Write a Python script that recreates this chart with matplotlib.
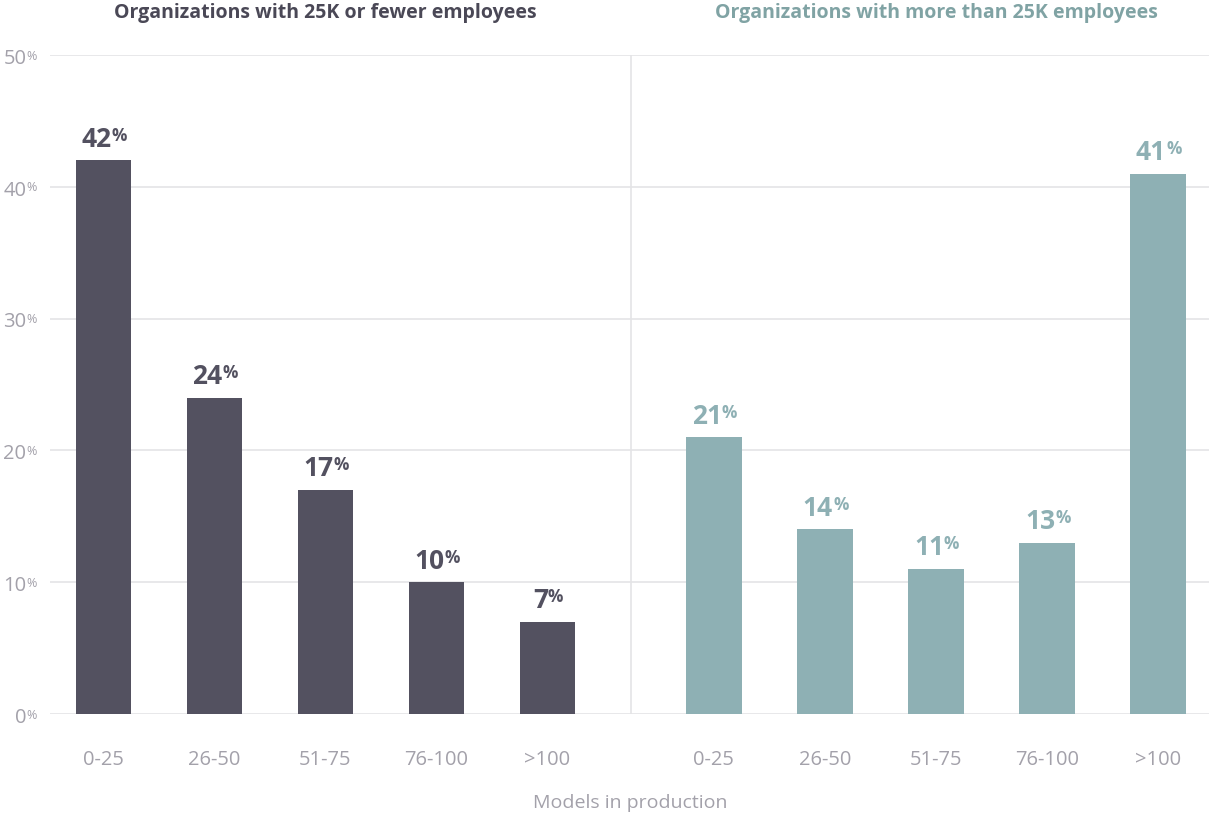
import matplotlib.pyplot as plt
import numpy as np

# data
ranges = ["0-25", "26-50", "51-75", "76-100", ">100"]
small_orgs = [42, 24, 17, 10, 7]
large_orgs = [21, 14, 11, 13, 41]
yticks = [0, 10, 20, 30, 40, 50]

dark = "#535160"
teal = "#8eb0b4"
grey_txt = "#a3a1aa"
grid_col = "#e4e4e6"

plt.rcParams['font.family'] = ['Open Sans', 'DejaVu Sans']

fig = plt.figure(figsize=(12.09, 8.18), dpi=100)
ax = fig.add_axes([50 / 1209, 104 / 818, 1 - 50 / 1209, (714 - 55) / 818])

x1 = np.arange(len(ranges))
x2 = x1 + 5.5
ax.bar(x1, small_orgs, width=0.5, color=dark, zorder=3)
ax.bar(x2, large_orgs, width=0.5, color=teal, zorder=3)

ax.set_xlim(-0.48, 9.96)
ax.set_ylim(0, 50)

# grid lines
for y in yticks:
    ax.axhline(y, color=grid_col, lw=1.2, zorder=1)
ax.plot([4.75, 4.75], [0, 50], color=grid_col, lw=1.2, zorder=1)

for s in ax.spines.values():
    s.set_visible(False)
ax.set_yticks([])
ax.set_xticks(list(x1) + list(x2))
ax.set_xticklabels(ranges + ranges, fontsize=14.5, color=grey_txt)
ax.tick_params(axis='x', length=0, pad=26)


def pct_label(x, y, num, color, size, weight, ha='center', xytext=(0, 0), gap=0, ratio=0.65):
    t = ax.annotate(num, xy=(x, y), xytext=xytext, textcoords='offset points',
                    ha=ha, va='bottom', fontsize=size, fontweight=weight, color=color,
                    annotation_clip=False)
    ax.annotate("%", xy=(1, 1), xycoords=t, xytext=(gap, -size * 0.04), textcoords='offset points',
                ha='left', va='top', fontsize=size * ratio, fontweight=weight, color=color,
                annotation_clip=False)
    return t


# y tick labels
for y in yticks:
    pct_label(-0.48, y, str(y), grey_txt, 14.5, 'normal', ha='right', xytext=(-17, -10),
              ratio=0.62)

# bar value labels
for x, v in zip(x1, small_orgs):
    pct_label(x, v, str(v), dark, 19, 'bold', xytext=(-5, 5.5))
for x, v in zip(x2, large_orgs):
    pct_label(x, v, str(v), teal, 19, 'bold', xytext=(-5, 5.5))

# group titles
fig.text(325 / 1209, 1 - 13 / 818, "Organizations with 25K or fewer employees",
         ha='center', va='center', fontsize=14, fontweight='bold', color="#4a4856")
fig.text(936 / 1209, 1 - 13 / 818, "Organizations with more than 25K employees",
         ha='center', va='center', fontsize=14, fontweight='bold', color="#80a3a4")

fig.text(630 / 1209, 1 - 803 / 818, "Models in production",
         ha='center', va='center', fontsize=14, color=grey_txt)

fig.savefig("out.png", dpi=100)
